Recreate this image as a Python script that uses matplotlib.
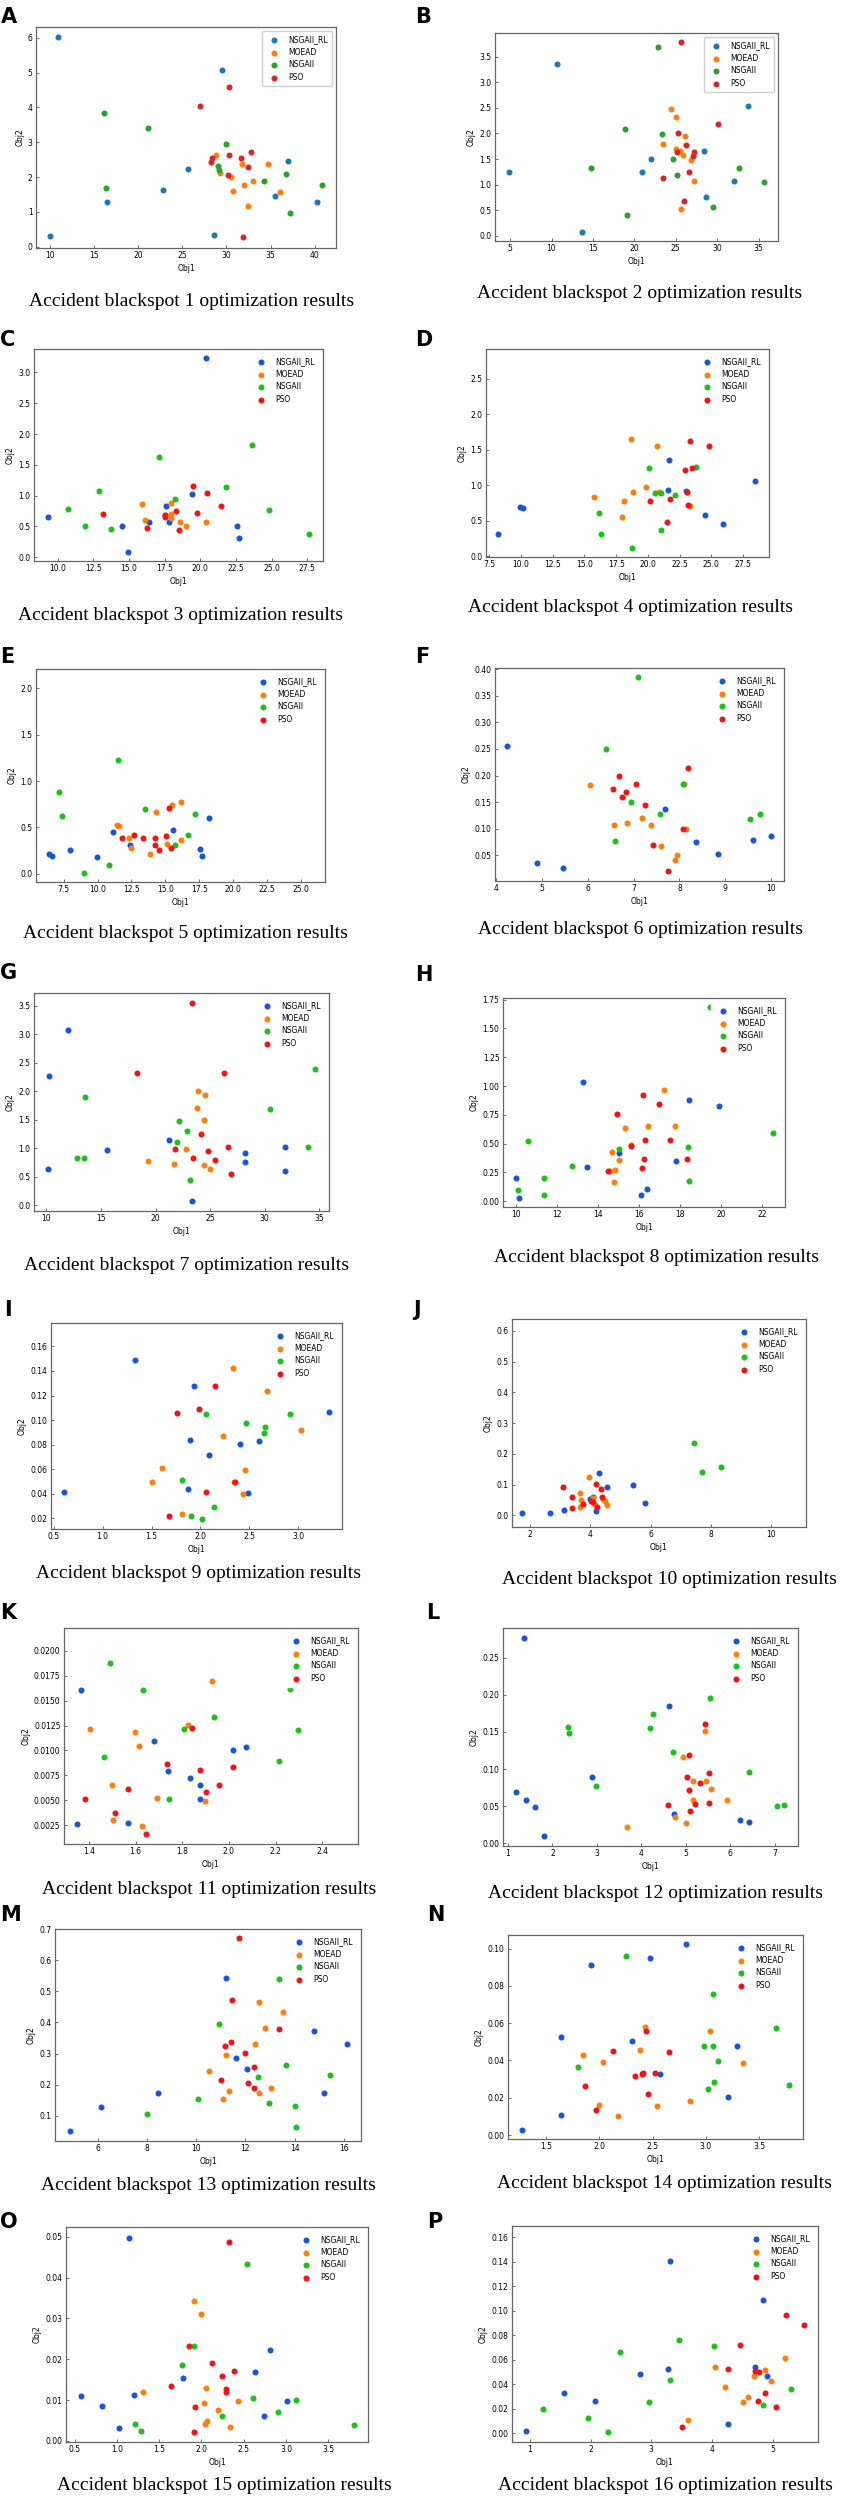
import matplotlib
matplotlib.use('Agg')
import matplotlib.pyplot as plt
from matplotlib.ticker import MultipleLocator

names = ['NSGAII_RL', 'MOEAD', 'NSGAII', 'PSO']
colors_ab = ['#1f77b4', '#ff7f0e', '#2ca02c', '#d62728']
colors_rest = ['#1a55d8', '#ff7f0e', '#1fbf1f', '#ee1515']

# ---- data: (Obj1, Obj2) per algorithm ----
a_rl = [(10.98, 6.03), (29.55, 5.08), (25.64, 2.22), (22.89, 1.62), (16.48, 1.28), (10.0, 0.31), (28.63, 0.32), (36.94, 2.47), (35.47, 1.44), (40.24, 1.29)]
a_mo = [(28.81, 2.64), (31.75, 2.37), (34.68, 2.37), (29.30, 2.11), (30.53, 2.00), (32.97, 1.89), (31.99, 1.76), (30.71, 1.61), (36.08, 1.57), (32.42, 1.17)]
a_ns = [(16.11, 3.85), (21.18, 3.42), (29.91, 2.94), (29.06, 2.32), (29.18, 2.21), (36.76, 2.10), (34.31, 1.89), (40.79, 1.77), (16.41, 1.67), (37.24, 0.96)]
a_ps = [(30.28, 4.60), (26.98, 4.04), (32.79, 2.71), (30.34, 2.62), (31.63, 2.54), (28.39, 2.56), (28.27, 2.42), (32.42, 2.28), (30.22, 2.06), (31.87, 0.27)]

b_rl = [(10.66, 3.36), (4.87, 1.25), (13.65, 0.07), (21.98, 1.50), (20.88, 1.25), (28.42, 1.66), (32.0, 1.08), (28.62, 0.76), (33.76, 2.54)]
b_mo = [(24.39, 2.48), (25.04, 2.32), (26.08, 1.96), (23.41, 1.79), (24.97, 1.69), (25.49, 1.65), (25.82, 1.58), (26.80, 1.48), (27.19, 1.08), (25.62, 0.53)]
b_ns = [(22.89, 3.69), (18.86, 2.09), (23.35, 1.99), (24.65, 1.51), (14.76, 1.33), (25.10, 1.18), (32.65, 1.33), (35.71, 1.05), (29.46, 0.57), (19.12, 0.40)]
b_ps = [(25.69, 3.78), (30.05, 2.19), (25.23, 2.00), (26.27, 1.77), (25.10, 1.63), (27.19, 1.64), (27.06, 1.57), (26.54, 1.25), (23.48, 1.14), (25.95, 0.69)]

c_rl = [(20.40, 3.23), (9.28, 0.65), (14.52, 0.51), (14.94, 0.09), (16.42, 0.58), (17.59, 0.83), (17.82, 0.58), (19.42, 1.02), (22.60, 0.51), (22.68, 0.31)]
c_mo = [(15.92, 0.86), (16.15, 0.61), (17.93, 0.88), (17.93, 0.70), (17.93, 0.63), (18.54, 0.58), (18.96, 0.50), (20.40, 0.58), (17.55, 0.68)]
c_ns = [(17.10, 1.63), (23.59, 1.82), (12.89, 1.08), (21.77, 1.14), (18.24, 0.95), (10.68, 0.78), (11.94, 0.51), (13.72, 0.46), (24.81, 0.76), (27.65, 0.37)]
c_ps = [(19.49, 1.16), (20.48, 1.04), (13.15, 0.70), (21.47, 0.83), (18.28, 0.75), (19.76, 0.72), (17.55, 0.69), (17.55, 0.65), (16.23, 0.48), (18.50, 0.45)]

d_rl = [(8.18, 0.32), (9.93, 0.69), (10.14, 0.68), (21.66, 1.35), (21.57, 0.93), (23.02, 0.92), (24.47, 0.58), (25.92, 0.45), (28.48, 1.06)]
d_mo = [(18.67, 1.65), (20.72, 1.55), (19.87, 0.98), (18.80, 0.91), (20.85, 0.91), (15.77, 0.84), (18.08, 0.78), (23.11, 0.91), (23.36, 0.71), (17.99, 0.56)]
d_ns = [(20.12, 1.25), (23.83, 1.26), (20.59, 0.89), (21.06, 0.89), (22.17, 0.87), (16.11, 0.61), (16.28, 0.32), (21.02, 0.37), (18.76, 0.12)]
d_ps = [(23.32, 1.62), (24.81, 1.55), (23.45, 1.25), (22.89, 1.21), (23.06, 0.90), (21.74, 0.81), (20.17, 0.78), (23.19, 0.72), (21.53, 0.48)]

e_rl = [(6.42, 0.21), (6.66, 0.19), (7.94, 0.26), (9.97, 0.18), (11.13, 0.45), (12.36, 0.31), (15.59, 0.47), (17.54, 0.27), (17.66, 0.19), (18.22, 0.60)]
e_mo = [(11.41, 0.53), (11.61, 0.52), (16.15, 0.77), (15.51, 0.74), (14.32, 0.67), (12.32, 0.38), (12.44, 0.28), (13.88, 0.21), (15.11, 0.32), (16.11, 0.36)]
e_ns = [(11.53, 1.23), (7.14, 0.88), (7.38, 0.62), (13.48, 0.70), (17.19, 0.64), (16.67, 0.42), (15.67, 0.31), (10.85, 0.09), (8.97, 0.01)]
e_ps = [(15.23, 0.71), (11.80, 0.39), (12.72, 0.42), (13.32, 0.38), (14.20, 0.38), (15.07, 0.41), (14.20, 0.31), (14.55, 0.26), (15.39, 0.28)]

f_rl = [(4.25, 0.255), (4.90, 0.036), (5.46, 0.026), (7.69, 0.138), (8.37, 0.075), (8.84, 0.0525), (9.60, 0.079), (10.0, 0.086), (8.92, 0.299)]
f_mo = [(6.06, 0.183), (6.58, 0.1075), (6.86, 0.111), (7.19, 0.12), (7.38, 0.107), (7.60, 0.067), (7.94, 0.05), (7.91, 0.042), (8.14, 0.099), (8.09, 0.184)]
f_ns = [(7.10, 0.385), (6.39, 0.249), (6.94, 0.15), (7.57, 0.1275), (6.59, 0.077), (8.08, 0.184), (9.53, 0.1175), (9.75, 0.1275), (9.15, 0.298)]
f_ps = [(6.69, 0.199), (7.06, 0.184), (6.55, 0.175), (6.83, 0.169), (6.75, 0.159), (7.25, 0.144), (8.18, 0.214), (8.08, 0.10), (7.43, 0.069), (7.76, 0.02)]

g_rl = [(11.93, 3.08), (10.20, 2.27), (10.10, 0.63), (15.54, 0.97), (21.24, 1.14), (23.37, 0.07), (28.17, 0.92), (28.22, 0.75), (31.83, 1.02), (31.83, 0.60)]
g_mo = [(23.91, 2.00), (24.55, 1.93), (23.81, 1.70), (24.46, 1.49), (22.77, 0.99), (19.26, 0.77), (21.73, 0.72), (24.46, 0.71), (24.95, 0.63)]
g_ns = [(13.56, 1.90), (34.65, 2.38), (30.50, 1.68), (22.18, 1.47), (22.92, 1.30), (21.98, 1.11), (12.77, 0.83), (13.47, 0.83), (33.96, 1.03), (23.17, 0.44)]
g_ps = [(23.32, 3.54), (18.27, 2.32), (26.24, 2.31), (24.16, 1.25), (26.63, 1.02), (21.78, 0.98), (24.80, 0.96), (23.47, 0.82), (25.45, 0.79), (26.93, 0.54)]

h_rl = [(13.29, 1.036), (10.0, 0.206), (10.13, 0.029), (13.47, 0.30), (15.05, 0.42), (16.11, 0.058), (16.42, 0.11), (17.79, 0.348), (18.45, 0.88), (19.89, 0.83)]
h_mo = [(17.24, 0.963), (16.45, 0.656), (17.74, 0.656), (15.32, 0.638), (15.63, 0.488), (14.71, 0.424), (15.05, 0.36), (14.84, 0.27), (14.58, 0.264), (14.79, 0.171)]
h_ns = [(19.47, 1.683), (22.53, 0.595), (10.61, 0.525), (15.05, 0.453), (18.39, 0.467), (12.74, 0.308), (11.39, 0.203), (10.08, 0.099), (11.39, 0.058), (18.47, 0.177)]
h_ps = [(16.21, 0.926), (16.97, 0.847), (14.95, 0.757), (16.29, 0.534), (17.53, 0.534), (15.63, 0.479), (16.26, 0.363), (18.37, 0.363), (16.16, 0.29), (14.50, 0.264)]

i_rl = [(1.33, 0.149), (0.605, 0.0419), (1.93, 0.128), (1.89, 0.0835), (2.09, 0.0714), (2.40, 0.0803), (2.60, 0.0827), (3.32, 0.1065), (1.87, 0.044), (2.49, 0.0408)]
i_mo = [(2.33, 0.142), (2.68, 0.124), (3.03, 0.0919), (2.23, 0.0868), (1.61, 0.0608), (2.46, 0.0597), (1.51, 0.0495), (1.81, 0.0232), (2.34, 0.0495), (2.44, 0.0397)]
i_ns = [(2.06, 0.105), (2.92, 0.1046), (2.47, 0.0973), (2.66, 0.0946), (2.65, 0.0892), (1.81, 0.0516), (2.14, 0.0297), (1.90, 0.0216), (2.02, 0.0192)]
i_ps = [(2.15, 0.128), (1.99, 0.109), (1.76, 0.106), (2.35, 0.0495), (2.06, 0.0414), (1.68, 0.0222)]

j_rl = [(1.71, 0.0087), (2.67, 0.0065), (3.12, 0.018), (4.19, 0.014), (4.00, 0.054), (4.07, 0.061), (4.30, 0.139), (4.55, 0.093), (5.42, 0.100), (5.83, 0.040)]
j_mo = [(3.96, 0.124), (3.64, 0.072), (3.67, 0.050), (4.07, 0.056), (4.43, 0.054), (4.48, 0.047), (4.54, 0.034), (3.65, 0.026), (4.14, 0.034)]
j_ns = [(7.45, 0.235), (7.72, 0.141), (8.35, 0.157)]
j_ps = [(3.08, 0.093), (4.18, 0.103), (4.34, 0.087), (3.40, 0.061), (4.37, 0.059), (3.76, 0.037), (3.38, 0.023), (4.23, 0.026), (4.03, 0.047), (4.07, 0.042)]

k_rl = [(1.365, 0.01606), (1.351, 0.0026), (1.569, 0.0027), (1.677, 0.01095), (1.740, 0.00794), (1.834, 0.00721), (1.878, 0.00657), (1.876, 0.00517), (2.017, 0.01001), (2.072, 0.01035)]
k_mo = [(1.927, 0.01696), (1.405, 0.01219), (1.596, 0.01188), (1.823, 0.01255), (1.617, 0.01048), (1.499, 0.00654), (1.693, 0.00527), (1.899, 0.00487), (1.502, 0.0030), (1.629, 0.00237)]
k_ns = [(1.492, 0.01876), (1.633, 0.01603), (2.261, 0.01619), (1.936, 0.01332), (1.809, 0.01215), (2.296, 0.01205), (1.467, 0.00931), (2.213, 0.00891), (1.742, 0.00514)]
k_ps = [(1.841, 0.01229), (1.733, 0.00865), (1.878, 0.00801), (2.019, 0.00834), (1.959, 0.00654), (1.901, 0.00584), (1.566, 0.00611), (1.384, 0.00517), (1.513, 0.00374), (1.645, 0.0016)]

l_rl = [(1.36, 0.2764), (1.19, 0.069), (1.41, 0.0578), (1.61, 0.0484), (1.81, 0.0103), (2.89, 0.0896), (4.61, 0.1855), (4.73, 0.039), (6.22, 0.0309), (6.42, 0.0282)]
l_mo = [(5.44, 0.151), (4.93, 0.1165), (5.15, 0.0833), (5.46, 0.0842), (5.56, 0.073), (5.16, 0.0582), (5.93, 0.0582), (4.76, 0.0349), (5.01, 0.0278), (3.68, 0.0215)]
l_ns = [(2.36, 0.1568), (2.38, 0.1483), (4.25, 0.1738), (4.19, 0.1555), (5.55, 0.1958), (4.71, 0.1228), (2.98, 0.0775), (6.42, 0.0959), (7.04, 0.0502), (7.21, 0.0511)]
l_ps = [(5.44, 0.1608), (5.08, 0.1187), (5.53, 0.095), (5.02, 0.0896), (5.32, 0.0815), (5.07, 0.0717), (4.60, 0.0515), (5.21, 0.0524), (5.53, 0.0538), (5.10, 0.0435)]

m_rl = [(4.86, 0.0495), (6.15, 0.127), (8.46, 0.173), (11.23, 0.543), (11.60, 0.285), (12.07, 0.249), (14.77, 0.374), (16.13, 0.332), (15.21, 0.173)]
m_mo = [(12.55, 0.465), (13.54, 0.434), (12.81, 0.383), (12.40, 0.330), (11.23, 0.294), (10.53, 0.244), (11.32, 0.178), (12.57, 0.173), (13.05, 0.188), (11.08, 0.153)]
m_ns = [(13.38, 0.540), (10.94, 0.394), (13.65, 0.263), (12.51, 0.226), (15.45, 0.232), (10.09, 0.153), (12.97, 0.142), (14.00, 0.132), (14.07, 0.0634), (8.02, 0.106)]
m_ps = [(11.74, 0.671), (11.47, 0.473), (11.41, 0.338), (11.16, 0.324), (11.98, 0.301), (13.38, 0.378), (12.37, 0.258), (10.99, 0.216), (12.09, 0.204), (12.37, 0.188)]

n_rl = [(2.81, 0.1023), (2.48, 0.0952), (1.92, 0.0913), (1.64, 0.0525), (2.31, 0.0507), (2.57, 0.0329), (3.29, 0.0477), (3.21, 0.0205), (1.64, 0.0107), (1.28, 0.0027)]
n_mo = [(2.43, 0.0582), (3.04, 0.0557), (2.38, 0.0454), (1.85, 0.0427), (2.04, 0.0391), (3.35, 0.0386), (2.85, 0.0182), (2.54, 0.0154), (2.00, 0.0164), (2.18, 0.0104)]
n_ns = [(2.25, 0.0961), (3.07, 0.0755), (3.66, 0.0575), (2.98, 0.0480), (3.07, 0.0477), (3.11, 0.0395), (1.80, 0.0363), (3.08, 0.0282), (3.02, 0.0245), (3.78, 0.0266)]
n_ps = [(2.44, 0.0557), (2.65, 0.0445), (2.13, 0.0452), (2.41, 0.0332), (2.52, 0.0332), (2.34, 0.0318), (1.87, 0.0264), (2.46, 0.0218), (1.97, 0.0134), (2.40, 0.0329)]

o_rl = [(1.14, 0.0498), (0.577, 0.011), (0.827, 0.0085), (1.02, 0.0033), (1.20, 0.0113), (1.78, 0.0155), (2.81, 0.0223), (2.63, 0.0169), (2.74, 0.0061), (3.01, 0.0098)]
o_mo = [(1.91, 0.0344), (2.00, 0.031), (1.31, 0.012), (2.05, 0.013), (2.03, 0.0093), (2.19, 0.0075), (2.06, 0.005), (2.04, 0.0041), (2.43, 0.0099), (2.34, 0.0035)]
o_ns = [(2.54, 0.0434), (1.91, 0.0232), (1.77, 0.0187), (2.61, 0.0105), (3.12, 0.0100), (2.91, 0.0072), (2.24, 0.0061), (1.21, 0.0041), (1.29, 0.0025), (3.81, 0.0039)]
o_ps = [(2.33, 0.0488), (1.85, 0.0232), (2.13, 0.0191), (1.64, 0.0134), (2.24, 0.0159), (2.39, 0.0171), (2.29, 0.0128), (2.29, 0.0120), (1.92, 0.0083), (1.91, 0.0022)]

p_rl = [(3.31, 0.1407), (4.85, 0.1084), (0.94, 0.0016), (1.57, 0.0329), (2.07, 0.0261), (2.81, 0.0481), (3.27, 0.0519), (4.71, 0.0543), (4.91, 0.0465), (4.26, 0.0076)]
p_mo = [(4.05, 0.0541), (5.20, 0.0609), (4.88, 0.0511), (4.70, 0.0467), (4.98, 0.0421), (4.21, 0.0372), (4.59, 0.0296), (4.51, 0.0253), (3.61, 0.0106)]
p_ns = [(3.46, 0.0763), (4.03, 0.0709), (2.48, 0.0663), (3.31, 0.0432), (5.31, 0.0361), (2.97, 0.0253), (4.85, 0.0228), (1.21, 0.0198), (1.96, 0.0122), (2.28, 0.0008)]
p_ps = [(5.22, 0.0964), (5.52, 0.0883), (4.46, 0.0720), (4.27, 0.0519), (4.71, 0.0505), (4.78, 0.0500), (4.88, 0.0329), (4.76, 0.0258), (5.06, 0.0212), (3.50, 0.0052)]

W, H = 843, 2500
fig = plt.figure(figsize=(W / 100, H / 100), dpi=100)


def box(l, t, r, b):
    return [l / W, 1 - b / H, (r - l) / W, (b - t) / H]


# letter, series, axes box (px), letter pos, title pos, xlim, ylim, tick steps
panels = [
    ('A', [a_rl, a_mo, a_ns, a_ps], (36, 27, 336, 248), (1, 7), (192, 301), (8.47, 42.4), (-0.04, 6.31), (5, 1)),
    ('B', [b_rl, b_mo, b_ns, b_ps], (495, 33, 778, 241), (415, 7), (640, 293), (3.18, 37.34), (-0.098, 3.96), (5, 0.5)),
    ('C', [c_rl, c_mo, c_ns, c_ps], (34, 349, 323, 561), (0, 330), (181, 615), (8.33, 28.60), (-0.06, 3.38), (2.5, 0.5)),
    ('D', [d_rl, d_mo, d_ns, d_ps], (486, 349, 769, 557), (415, 330), (630, 608), (7.24, 29.55), (-0.01, 2.92), (2.5, 0.5)),
    ('E', [e_rl, e_mo, e_ns, e_ps], (36, 669, 325, 882), (0, 647), (185, 933), (5.47, 26.75), (-0.09, 2.21), (2.5, 0.5)),
    ('F', [f_rl, f_mo, f_ns, f_ps], (495, 668, 784, 881), (415, 647), (640, 930), (3.98, 10.28), (0.0019, 0.402), (1, 0.05)),
    ('G', [g_rl, g_mo, g_ns, g_ps], (34, 993, 329, 1211), (0, 963), (186, 1266), (8.86, 35.89), (-0.10, 3.72), (5, 0.5)),
    ('H', [h_rl, h_mo, h_ns, h_ps], (503, 998, 785, 1207), (415, 965), (657, 1257), (9.37, 23.13), (-0.05, 1.764), (2, 0.25)),
    ('I', [i_rl, i_mo, i_ns, i_ps], (51, 1323, 342, 1529), (4, 1300), (199, 1574), (0.472, 3.448), (0.0114, 0.179), (0.5, 0.02)),
    ('J', [j_rl, j_mo, j_ns, j_ps], (512, 1319, 806, 1527), (413, 1300), (669, 1579), (1.39, 11.17), (-0.038, 0.639), (2, 0.1)),
    ('K', [k_rl, k_mo, k_ns, k_ps], (64, 1628, 358, 1844), (0, 1603), (209, 1889), (1.294, 2.552), (0.0006, 0.0223), (0.2, 0.0025)),
    ('L', [l_rl, l_mo, l_ns, l_ps], (503, 1628, 798, 1846), (426, 1603), (656, 1893), (0.89, 7.52), (-0.0036, 0.29), (1, 0.05)),
    ('M', [m_rl, m_mo, m_ns, m_ps], (55, 1929, 361, 2141), (0, 1905), (208, 2186), (4.26, 16.70), (0.0183, 0.701), (2, 0.1)),
    ('N', [n_rl, n_mo, n_ns, n_ps], (508, 1935, 803, 2139), (427, 1905), (664, 2184), (1.145, 3.91), (-0.0021, 0.1073), (0.5, 0.02)),
    ('O', [o_rl, o_mo, o_ns, o_ps], (66, 2227, 368, 2442), (0, 2212), (224, 2485), (0.397, 3.97), (-0.00025, 0.0524), (0.5, 0.01)),
    ('P', [p_rl, p_mo, p_ns, p_ps], (512, 2226, 818, 2442), (427, 2212), (665, 2485), (0.705, 5.75), (-0.0073, 0.169), (1, 0.02)),
]

for k, (letter, series, bx, lpos, tpos, xl, yl, steps) in enumerate(panels):
    ax = fig.add_axes(box(*bx))
    cols = colors_ab if k < 2 else colors_rest
    for pts, name, c in zip(series, names, cols):
        xs = [p[0] for p in pts]
        ys = [p[1] for p in pts]
        ax.scatter(xs, ys, s=19, color=c, label=name, linewidths=0)
    ax.set_xlim(*xl)
    ax.set_ylim(*yl)
    ax.xaxis.set_major_locator(MultipleLocator(steps[0]))
    ax.yaxis.set_major_locator(MultipleLocator(steps[1]))
    ax.tick_params(labelsize=5.5, length=2.5, width=0.6, pad=2.5, direction='in', color='#555555')
    for sp in ax.spines.values():
        sp.set_color('#666666')
        sp.set_linewidth(0.9)
    ax.set_xlabel('Obj1', fontsize=5.5, labelpad=2.5)
    ax.set_ylabel('Obj2', fontsize=5.5, labelpad=2.5)
    leg = ax.legend(loc='upper right', fontsize=5.5, scatterpoints=1,
                    labelspacing=0.45, borderpad=0.6, framealpha=1,
                    fancybox=True)
    if k < 2:
        leg.get_frame().set_edgecolor('#d0d0d0')
    else:
        leg.get_frame().set_edgecolor('white')
    fig.text(lpos[0] / W, 1 - lpos[1] / H, letter, fontsize=15,
             fontweight='bold', family='DejaVu Sans', ha='left', va='top')
    fig.text(tpos[0] / W, 1 - tpos[1] / H,
             'Accident blackspot %d optimization results' % (k + 1),
             fontsize=14, family='Liberation Serif', ha='center', va='center')

fig.savefig('out.png', dpi=100, facecolor='white')
